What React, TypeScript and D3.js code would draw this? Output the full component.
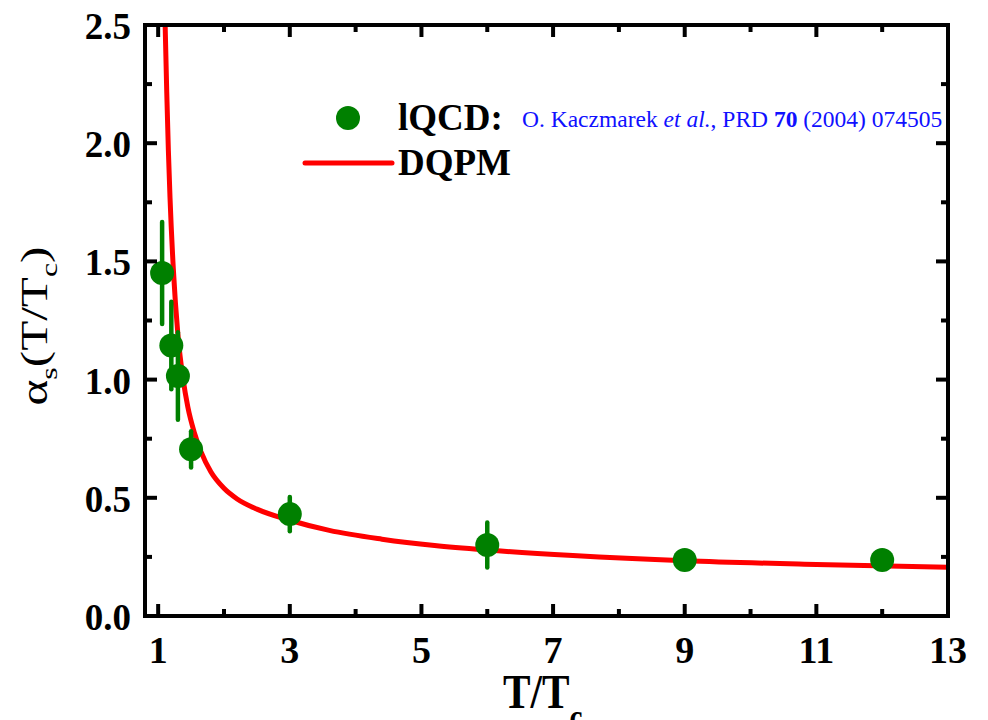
import React from 'react';
import * as d3 from 'd3';

// lattice QCD points (T/Tc, alpha_s, error)
const lqcdT = [1.06, 1.2, 1.3, 1.5, 3, 6, 9, 12];
const lqcdAlpha = [1.451, 1.144, 1.015, 0.705, 0.431, 0.3, 0.237, 0.237];
const lqcdErr = [0.216, 0.185, 0.185, 0.077, 0.072, 0.095, 0.03, 0.03];

// DQPM curve
const dqpmT = [1.106, 1.13, 1.155, 1.18, 1.23, 1.3, 1.38, 1.45, 1.55, 1.65, 1.8, 2.0, 2.2, 2.5, 3.0, 3.6, 4.4, 5.2, 6.0, 7.3, 9.0, 11.0, 13.0];
const dqpmAlpha = [2.5, 2.22, 1.97, 1.77, 1.47, 1.19, 1.0, 0.885, 0.775, 0.695, 0.61, 0.54, 0.495, 0.452, 0.405, 0.362, 0.325, 0.298, 0.279, 0.256, 0.234, 0.218, 0.206];

const xMajorTicks = [1, 3, 5, 7, 9, 11, 13];
const xMinorTicks = [2, 4, 6, 8, 10, 12];
const yMajorTicks = [0, 0.5, 1.0, 1.5, 2.0, 2.5];
const yMinorTicks = [0.25, 0.75, 1.25, 1.75, 2.25];
const yTickLabels = ['0.0', '0.5', '1.0', '1.5', '2.0', '2.5'];

const W = 988;
const H = 720;
const left = 145;
const right = 948;
const top = 25;
const bottom = 616;

const GREEN = '#008000';
const RED = '#ff0000';
const BLUE = '#1010ff';
const SERIF = '"Liberation Serif", "Times New Roman", serif';

export default function App() {
  const x = d3.scaleLinear().domain([0.8, 13]).range([left, right]);
  const y = d3.scaleLinear().domain([0, 2.5]).range([bottom, top]);

  const curveData = dqpmT.map((t, i) => [t, dqpmAlpha[i]] as [number, number]);
  const line = d3
    .line<[number, number]>()
    .x((d) => x(d[0]))
    .y((d) => y(d[1]))
    .curve(d3.curveMonotoneX);

  const majLen = 12;
  const minLen = 7;

  return (
    <svg width={W} height={H} viewBox={`0 0 ${W} ${H}`} style={{ position: 'absolute', left: 0, top: 0, background: '#fff' }}>
      <defs>
        <clipPath id="plotClip">
          <rect x={left} y={top} width={right - left} height={bottom - top} />
        </clipPath>
      </defs>
      <rect x={0} y={0} width={W} height={H} fill="#fff" />

      {/* DQPM curve */}
      <path d={line(curveData) || ''} fill="none" stroke={RED} strokeWidth={5} clipPath="url(#plotClip)" />

      {/* lQCD error bars */}
      {lqcdT.map((t, i) => (
        <line
          key={'e' + i}
          x1={x(t)}
          x2={x(t)}
          y1={y(lqcdAlpha[i] + lqcdErr[i])}
          y2={y(lqcdAlpha[i] - lqcdErr[i])}
          stroke={GREEN}
          strokeWidth={4.5}
          strokeLinecap="round"
        />
      ))}
      {/* lQCD points */}
      {lqcdT.map((t, i) => (
        <circle key={'p' + i} cx={x(t)} cy={y(lqcdAlpha[i])} r={12} fill={GREEN} />
      ))}

      {/* frame */}
      <rect x={left} y={top} width={right - left} height={bottom - top} fill="none" stroke="#000" strokeWidth={4} />

      {/* x ticks bottom & top */}
      {xMajorTicks.map((t) => (
        <g key={'xM' + t}>
          <line x1={x(t)} x2={x(t)} y1={bottom} y2={bottom - majLen} stroke="#000" strokeWidth={4} />
          <line x1={x(t)} x2={x(t)} y1={top} y2={top + majLen} stroke="#000" strokeWidth={4} />
        </g>
      ))}
      {xMinorTicks.map((t) => (
        <g key={'xm' + t}>
          <line x1={x(t)} x2={x(t)} y1={bottom} y2={bottom - minLen} stroke="#000" strokeWidth={4} />
          <line x1={x(t)} x2={x(t)} y1={top} y2={top + minLen} stroke="#000" strokeWidth={4} />
        </g>
      ))}
      {/* y ticks left & right */}
      {yMajorTicks.map((v) => (
        <g key={'yM' + v}>
          <line x1={left} x2={left + majLen} y1={y(v)} y2={y(v)} stroke="#000" strokeWidth={4} />
          <line x1={right} x2={right - majLen} y1={y(v)} y2={y(v)} stroke="#000" strokeWidth={4} />
        </g>
      ))}
      {yMinorTicks.map((v) => (
        <g key={'ym' + v}>
          <line x1={left} x2={left + minLen} y1={y(v)} y2={y(v)} stroke="#000" strokeWidth={4} />
          <line x1={right} x2={right - minLen} y1={y(v)} y2={y(v)} stroke="#000" strokeWidth={4} />
        </g>
      ))}

      {/* tick labels */}
      {xMajorTicks.map((t) => (
        <text key={'xl' + t} x={x(t)} y={bottom + 47} textAnchor="middle" fontFamily={SERIF} fontWeight="bold" fontSize={38} fill="#000">
          {t}
        </text>
      ))}
      {yMajorTicks.map((v, i) => (
        <text key={'yl' + v} x={131} y={y(v) + 14} textAnchor="end" fontFamily={SERIF} fontWeight="bold" fontSize={37} fill="#000">
          {yTickLabels[i]}
        </text>
      ))}

      {/* x axis label */}
      <text transform="translate(503,708) scale(0.86,1)" fontFamily={SERIF} fontWeight="bold" fontSize={48} fill="#000">
        T/T
        <tspan fontSize={34} dy={20}>c</tspan>
      </text>

      {/* y axis label */}
      <text transform="translate(47,326) rotate(-90) scale(1.33,1)" textAnchor="middle" fontFamily={SERIF} fontSize={37} fill="#000">
        α
        <tspan fontSize={24} dy={10}>s</tspan>
        <tspan dy={-10}>(T/T</tspan>
        <tspan fontSize={24} dy={10}>c</tspan>
        <tspan dy={-10}>)</tspan>
      </text>

      {/* legend */}
      <circle cx={348} cy={118} r={12} fill={GREEN} />
      <text x={398} y={130} fontFamily={SERIF} fontWeight="bold" fontSize={37} fill="#000">lQCD:</text>
      <text x={522} y={127} fontFamily={SERIF} fontSize={23.5} fill={BLUE}>
        O. Kaczmarek <tspan fontStyle="italic">et al.</tspan>, PRD <tspan fontWeight="bold">70</tspan> (2004) 074505
      </text>
      <line x1={305} x2={392} y1={163} y2={163} stroke={RED} strokeWidth={5} strokeLinecap="round" />
      <text x={398} y={175} fontFamily={SERIF} fontWeight="bold" fontSize={37} fill="#000">DQPM</text>
    </svg>
  );
}
